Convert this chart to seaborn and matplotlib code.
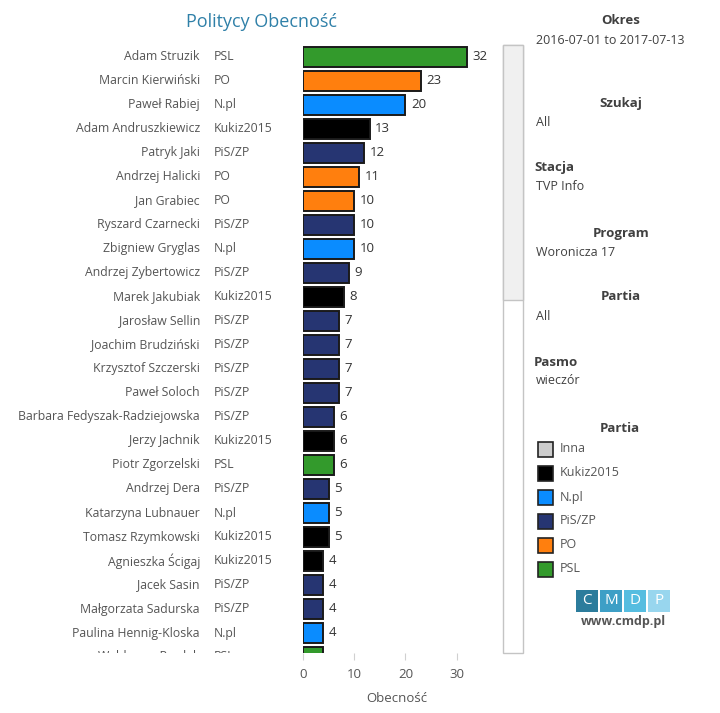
import matplotlib
matplotlib.use("Agg")
import matplotlib.pyplot as plt
import matplotlib.transforms as mtransforms
from matplotlib.patches import Rectangle
import seaborn as sns
import pandas as pd

names = ["Adam Struzik", "Marcin Kierwiński", "Paweł Rabiej", "Adam Andruszkiewicz",
         "Patryk Jaki", "Andrzej Halicki", "Jan Grabiec", "Ryszard Czarnecki",
         "Zbigniew Gryglas", "Andrzej Zybertowicz", "Marek Jakubiak", "Jarosław Sellin",
         "Joachim Brudziński", "Krzysztof Szczerski", "Paweł Soloch",
         "Barbara Fedyszak-Radziejowska", "Jerzy Jachnik", "Piotr Zgorzelski",
         "Andrzej Dera", "Katarzyna Lubnauer", "Tomasz Rzymkowski", "Agnieszka Ścigaj",
         "Jacek Sasin", "Małgorzata Sadurska", "Paulina Hennig-Kloska", "Waldemar Pawlak"]
parties = ["PSL", "PO", "N.pl", "Kukiz2015", "PiS/ZP", "PO", "PO", "PiS/ZP", "N.pl",
           "PiS/ZP", "Kukiz2015", "PiS/ZP", "PiS/ZP", "PiS/ZP", "PiS/ZP", "PiS/ZP",
           "Kukiz2015", "PSL", "PiS/ZP", "N.pl", "Kukiz2015", "Kukiz2015", "PiS/ZP",
           "PiS/ZP", "N.pl", "PSL"]
values = [32, 23, 20, 13, 12, 11, 10, 10, 10, 9, 8, 7, 7, 7, 7, 6, 6, 6, 5, 5, 5, 4, 4, 4, 4, 4]

legend_parties = ["Inna", "Kukiz2015", "N.pl", "PiS/ZP", "PO", "PSL"]
party_colors = {"Inna": "#cccccc", "Kukiz2015": "#000000", "N.pl": "#0a8cff",
                "PiS/ZP": "#263572", "PO": "#ff7f0e", "PSL": "#339a2c"}

filters = [("Okres", "2016-07-01 to 2017-07-13", "center"),
           ("Szukaj", "All", "center"),
           ("Stacja", "TVP Info", "left"),
           ("Program", "Woronicza 17", "center"),
           ("Partia", "All", "center"),
           ("Pasmo", "wieczór", "left")]

df = pd.DataFrame({"name": names, "party": parties, "value": values})

FONT = ["Open Sans", "DejaVu Sans"]
W, H = 720, 713
fig = plt.figure(figsize=(W / 100, H / 100), dpi=100)
plt.rcParams["font.family"] = FONT

def fx(px):
    return px / W

def fy(py):
    return 1 - py / H

ax_left, ax_right, ax_top, ax_bot = 303, 490, 45, 653
ax = fig.add_axes([fx(ax_left), fy(ax_bot), fx(ax_right - ax_left), (ax_bot - ax_top) / H])

sns.barplot(data=df, x="value", y="name", hue="party", palette=party_colors,
            dodge=False, orient="h", legend=False, width=0.82,
            edgecolor="#1a1a1a", linewidth=1.4, ax=ax, saturation=1)

xmax = (ax_right - ax_left) / 5.12
ax.set_xlim(0, xmax)
row0, step = 57, 24.0
ax.set_ylim((ax_bot - row0) / step, (ax_top - row0) / step)

for s in ax.spines.values():
    s.set_visible(False)
ax.set_yticks([])
ax.set_ylabel("")
ax.set_xticks([0, 10, 20, 30])
ax.tick_params(axis="x", length=5, color="#d0d0d0", labelcolor="#555555",
               labelsize=9.5, pad=6)
ax.set_xlabel("Obecność", color="#555555", fontsize=9.5, labelpad=8)

clip = mtransforms.TransformedBbox(
    mtransforms.Bbox.from_extents(0, fy(ax_bot), 1, 1), fig.transFigure)
trans = mtransforms.blended_transform_factory(fig.transFigure, ax.transData)

for i, (n, p, v) in enumerate(zip(names, parties, values)):
    t1 = ax.text(fx(200), i, n, transform=trans, ha="right", va="center",
                 fontsize=8.8, color="#555555")
    t2 = ax.text(fx(214), i, p, transform=trans, ha="left", va="center",
                 fontsize=8.8, color="#555555")
    t3 = ax.annotate(str(v), xy=(v, i), xytext=(4, 0), textcoords="offset points",
                     ha="left", va="center", fontsize=9.5, color="#333333")
    for t in (t1, t2, t3):
        t.set_clip_on(True)
        t.set_clip_box(clip)

# title
fig.text(fx(262), fy(22), "Politycy Obecność", ha="center", va="center",
         fontsize=13, color="#2f80a8")

# scrollbar
fig.patches.append(Rectangle((fx(503), fy(653)), fx(20), (653 - 45) / H,
                             transform=fig.transFigure, facecolor="white",
                             edgecolor="#c4c4c4", linewidth=1))
fig.patches.append(Rectangle((fx(503), fy(300)), fx(20), (300 - 45) / H,
                             transform=fig.transFigure, facecolor="#f0f0f0",
                             edgecolor="#c4c4c4", linewidth=1))

# filter panel
head_y = [21, 103, 168, 233, 297, 362]
for (h, val, align), yy in zip(filters, head_y):
    if align == "center":
        fig.text(fx(621), fy(yy), h, ha="center", va="center", fontsize=9.5,
                 fontweight="bold", color="#404040")
    else:
        fig.text(fx(534), fy(yy), h, ha="left", va="center", fontsize=9.5,
                 fontweight="bold", color="#404040")
    fig.text(fx(536), fy(yy + 19), val, ha="left", va="center", fontsize=9,
             color="#404040")

# legend
fig.text(fx(620), fy(428), "Partia", ha="center", va="center", fontsize=9.5,
         fontweight="bold", color="#404040")
for k, p in enumerate(legend_parties):
    yy = 449 + 24 * k
    fig.patches.append(Rectangle((fx(538), fy(yy + 7.5)), fx(15), 15 / H,
                                 transform=fig.transFigure,
                                 facecolor=party_colors[p], edgecolor="#222222",
                                 linewidth=1.2))
    fig.text(fx(560), fy(yy), p, ha="left", va="center", fontsize=9,
             color="#555555")

# logo
logo_cols = ["#2c7c9c", "#3d9fc6", "#56bde0", "#98d6ee"]
for k, (c, letter) in enumerate(zip(logo_cols, "CMDP")):
    x0 = 576 + k * 24
    fig.patches.append(Rectangle((fx(x0), fy(612)), fx(22), 22 / H,
                                 transform=fig.transFigure, facecolor=c,
                                 edgecolor="none"))
    fig.text(fx(x0 + 11), fy(601), letter, ha="center", va="center",
             fontsize=11, color="white")
fig.text(fx(623), fy(621), "www.cmdp.pl", ha="center", va="center",
         fontsize=9, fontweight="bold", color="#555555")

fig.savefig("out.png", dpi=100, facecolor="white")
